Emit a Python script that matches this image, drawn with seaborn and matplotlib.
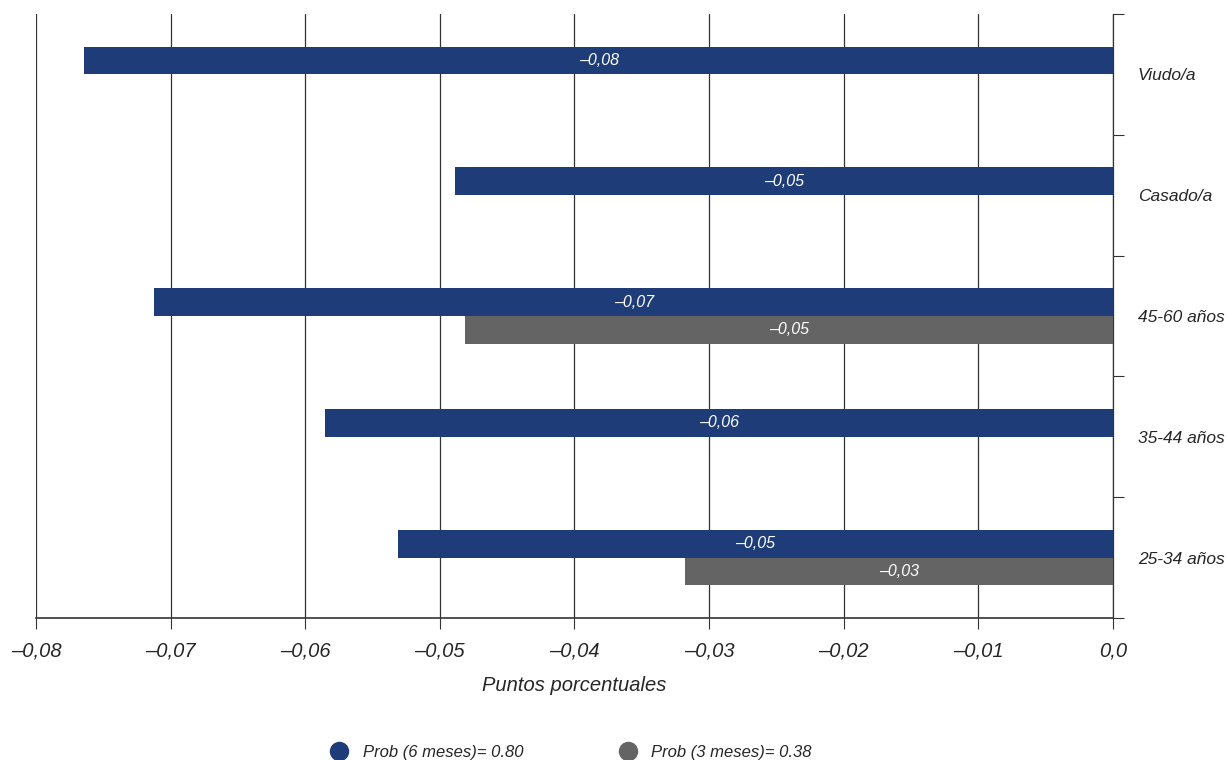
import numpy as np
import pandas as pd
import matplotlib
matplotlib.use("Agg")
import matplotlib.pyplot as plt
from matplotlib import font_manager
from matplotlib.lines import Line2D
from matplotlib.ticker import FixedLocator
import seaborn as sns

# data
categorias = ["Viudo/a", "Casado/a", "45-60 años", "35-44 años", "25-34 años"]
prob_6_meses = [-0.0764, -0.0489, -0.0712, -0.0585, -0.0531]
prob_3_meses = [np.nan, np.nan, -0.0481, np.nan, -0.0318]
series = ["Prob (6 meses)= 0.80", "Prob (3 meses)= 0.38"]
colores = ["#1e3c78", "#646464"]
x_ticks = [-0.08, -0.07, -0.06, -0.05, -0.04, -0.03, -0.02, -0.01, 0.0]
x_tick_labels = ["\u20130,08", "\u20130,07", "\u20130,06", "\u20130,05", "\u20130,04",
                 "\u20130,03", "\u20130,02", "\u20130,01", "0,0"]

# long table for seaborn
df = pd.DataFrame({
    "categoria": categorias * 2,
    "valor": prob_6_meses + prob_3_meses,
    "serie": [series[0]] * len(categorias) + [series[1]] * len(categorias),
}).dropna()

sns.set_style("white")
available = {f.name for f in font_manager.fontManager.ttflist}
narrow = "Liberation Sans Narrow" if "Liberation Sans Narrow" in available else "Liberation Sans"
plt.rcParams["font.family"] = ["Liberation Sans", "DejaVu Sans"]

fig = plt.figure(figsize=(12.29, 7.6), dpi=100)
ax = fig.add_axes([0.0293, 0.1868, 0.8763, 0.7948])

sns.barplot(data=df, x="valor", y="categoria", hue="serie", order=categorias,
            hue_order=series, palette=colores, orient="h", width=0.46,
            saturation=1, errorbar=None, linewidth=0, ax=ax, zorder=3)

ax.set_xlim(-0.08, 0.0)
ax.set_ylim(len(categorias) - 0.5, -0.5)

# bar value labels
for cont in ax.containers:
    labs = [("\u2013" if v < 0 else "") + f"{abs(v):.2f}".replace(".", ",")
            for v in cont.datavalues]
    ax.bar_label(cont, labels=labs, label_type="center", color="white",
                 fontsize=11.5, style="italic", family=[narrow, "DejaVu Sans"])

# x axis
ax.xaxis.set_major_locator(FixedLocator(x_ticks))
ax.set_xticklabels(x_tick_labels, style="italic", fontsize=14.5,
                   family=[narrow, "DejaVu Sans"])
ax.tick_params(axis="x", direction="out", length=8, width=0.8, color="#333333",
               bottom=True, pad=9)
ax.set_xlabel("Puntos porcentuales", style="italic", fontsize=14.5,
              family=[narrow, "DejaVu Sans"], labelpad=11)
ax.grid(axis="x", color="#333333", linewidth=0.9, zorder=0)
ax.grid(axis="y", visible=False)

# y axis on the right, ticks at category boundaries
ax.yaxis.tick_right()
ax.set_ylabel("")
ax.set_yticks(range(len(categorias)))
ax.set_yticklabels(categorias, style="italic", fontsize=12.5)
ax.set_yticks(np.arange(-0.5, len(categorias) + 0.5, 1), minor=True)
ax.tick_params(axis="y", which="major", length=0, pad=18, right=True)
ax.tick_params(axis="y", which="minor", length=8, width=0.8, color="#333333",
               right=True, direction="out")

for side in ["top", "left"]:
    ax.spines[side].set_visible(False)
ax.spines["right"].set_color("#333333")
ax.spines["right"].set_linewidth(0.9)
ax.spines["bottom"].set_color("#333333")
ax.spines["bottom"].set_linewidth(1.2)

# legend with round markers
if ax.get_legend() is not None:
    ax.get_legend().remove()
handles = [Line2D([], [], marker="o", linestyle="", markersize=13,
                  markerfacecolor=c, markeredgecolor=c) for c in colores]
fig.legend(handles, series, loc="center", bbox_to_anchor=(0.4615, 0.01), ncol=2,
           frameon=False, handletextpad=0.4, columnspacing=5.3,
           prop={"family": [narrow, "DejaVu Sans"], "style": "italic", "size": 12})

fig.savefig("out.png", dpi=100)
